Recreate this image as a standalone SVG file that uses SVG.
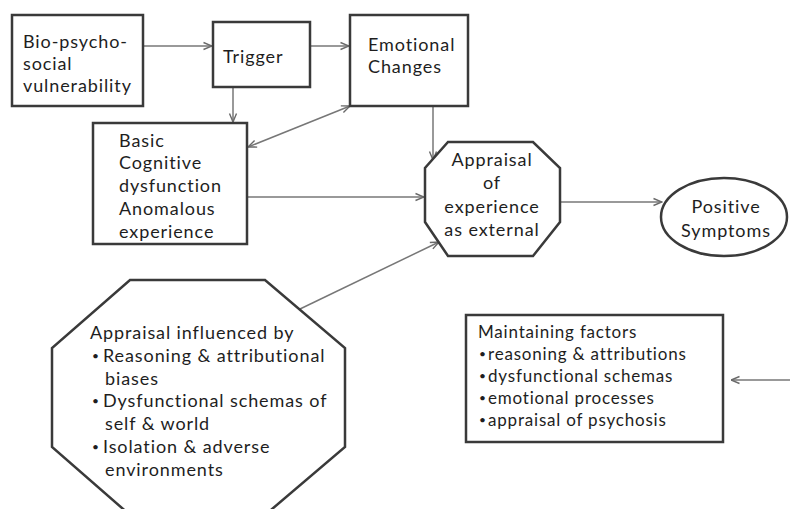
<svg xmlns="http://www.w3.org/2000/svg" width="790" height="509" viewBox="0 0 790 509">
  <defs>
    <marker id="arrow" viewBox="0 0 10 10" refX="9.5" refY="5" markerWidth="10" markerHeight="10" markerUnits="userSpaceOnUse" orient="auto-start-reverse">
      <path d="M1,1.5 L9.5,5 L1,8.5" fill="none" stroke="#6a6a6a" stroke-width="1.4"/>
    </marker>
  </defs>
  <style>
    .shape { fill: #ffffff; stroke: #3a3a3a; stroke-width: 2.5; }
    .label { font-family: Lato, "Open Sans", "Liberation Sans", sans-serif; font-size: 18px; fill: #1e1e1e; letter-spacing: 0.9px; }
    .small { font-size: 17px; letter-spacing: 0.8px; }
    .bullet { font-size: 12px; letter-spacing: 0; }
    .mid { text-anchor: middle; }
    .conn { fill: none; stroke: #777777; stroke-width: 1.5; marker-end: url(#arrow); }
  </style>
  <rect width="790" height="509" fill="#ffffff"/>

  <!-- connectors -->
  <g id="connectors">
    <line class="conn" x1="144" y1="46" x2="212" y2="46"/>
    <line class="conn" x1="311" y1="46" x2="349" y2="46"/>
    <line class="conn" x1="233" y1="88" x2="233" y2="122"/>
    <line class="conn" x1="248" y1="147" x2="350" y2="106" marker-start="url(#arrow)"/>
    <line class="conn" x1="433" y1="107" x2="433" y2="160"/>
    <line class="conn" x1="248" y1="197" x2="424" y2="197"/>
    <line class="conn" x1="300" y1="309" x2="439" y2="242"/>
    <line class="conn" x1="561" y1="202" x2="662" y2="202"/>
    <line class="conn" x1="790" y1="380" x2="731" y2="380"/>
  </g>

  <!-- vulnerability -->
  <g id="node-vulnerability">
    <rect class="shape" x="12" y="15" width="131" height="91"/>
    <text class="label" x="23" y="48">Bio-psycho-</text>
    <text class="label" x="23" y="70">social</text>
    <text class="label" x="23" y="92">vulnerability</text>
  </g>

  <!-- trigger -->
  <g id="node-trigger">
    <rect class="shape" x="213" y="22" width="97" height="65"/>
    <text class="label" x="223" y="63">Trigger</text>
  </g>

  <!-- emotional changes -->
  <g id="node-emotional">
    <rect class="shape" x="350" y="15" width="118" height="91"/>
    <text class="label" x="368" y="51">Emotional</text>
    <text class="label" x="368" y="73">Changes</text>
  </g>

  <!-- basic cognitive dysfunction -->
  <g id="node-cognitive">
    <rect class="shape" x="93" y="123" width="154" height="121"/>
    <text class="label" x="119" y="147">Basic</text>
    <text class="label" x="119" y="169">Cognitive</text>
    <text class="label" x="119" y="192">dysfunction</text>
    <text class="label" x="119" y="215">Anomalous</text>
    <text class="label" x="119" y="238">experience</text>
  </g>

  <!-- appraisal as external -->
  <g id="node-appraisal">
    <polygon class="shape" points="448,142 533,142 560,168 560,222 533,256 448,256 425,222 425,168"/>
    <text class="label mid" x="492" y="166">Appraisal</text>
    <text class="label mid" x="492" y="189">of</text>
    <text class="label mid" x="492" y="213">experience</text>
    <text class="label mid" x="492" y="236">as external</text>
  </g>

  <!-- positive symptoms -->
  <g id="node-positive">
    <ellipse class="shape" cx="724" cy="217" rx="63" ry="39"/>
    <text class="label mid" x="726" y="213">Positive</text>
    <text class="label mid" x="726" y="237">Symptoms</text>
  </g>

  <!-- appraisal influences -->
  <g id="node-influences">
    <polygon class="shape" points="130,280 265,280 345,348 345,447 265,515 130,515 52,447 52,348"/>
    <text class="label" x="90" y="339">Appraisal influenced by</text>
    <text class="label bullet" x="92" y="360">•</text>
    <text class="label" x="103" y="362">Reasoning &amp; attributional</text>
    <text class="label" x="105" y="385">biases</text>
    <text class="label bullet" x="92" y="405">•</text>
    <text class="label" x="103" y="407">Dysfunctional schemas of</text>
    <text class="label" x="105" y="430">self &amp; world</text>
    <text class="label bullet" x="92" y="451">•</text>
    <text class="label" x="103" y="453">Isolation &amp; adverse</text>
    <text class="label" x="105" y="476">environments</text>
  </g>

  <!-- maintaining factors -->
  <g id="node-maintaining">
    <rect class="shape" x="466" y="315" width="257" height="127"/>
    <text class="label small" x="478" y="338">Maintaining factors</text>
    <text class="label bullet" x="479" y="358">•</text>
    <text class="label small" x="488" y="360">reasoning &amp; attributions</text>
    <text class="label bullet" x="479" y="380">•</text>
    <text class="label small" x="488" y="382">dysfunctional schemas</text>
    <text class="label bullet" x="479" y="402">•</text>
    <text class="label small" x="488" y="404">emotional processes</text>
    <text class="label bullet" x="479" y="424">•</text>
    <text class="label small" x="488" y="426">appraisal of psychosis</text>
  </g>
</svg>
